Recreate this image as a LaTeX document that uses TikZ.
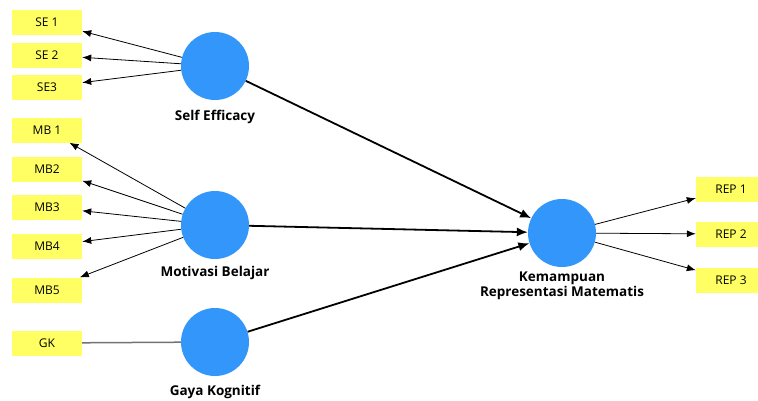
\documentclass[tikz,border=0pt]{standalone}
\usepackage{fontspec}
\setmainfont{Open Sans}
\usetikzlibrary{arrows.meta}
\definecolor{lvblue}{RGB}{51,150,250}
\definecolor{indyel}{RGB}{255,255,100}
\tikzset{
  ind/.style={fill=indyel, draw=none, minimum width=70pt, minimum height=25pt, inner sep=0pt, font=\fontsize{12}{13}\selectfont},
  lv/.style={circle, fill=lvblue, draw=none, minimum size=68pt, inner sep=0pt},
  lvlabel/.style={font=\bfseries\fontsize{13.5}{16}\selectfont, align=center, inner sep=0pt},
  load/.style={draw=black, line width=0.8pt, -{Latex[length=9pt,width=7pt]}},
  path/.style={draw=black, line width=1.8pt, -{Latex[length=11pt,width=9pt]}},
  single/.style={draw=black!55, line width=1.5pt}
}
\begin{document}
\begin{tikzpicture}[x=1pt,y=-1pt]
\clip (0,0) rectangle (758,400);
\useasboundingbox (0,0) rectangle (758,400);
\fill[white] (0,0) rectangle (758,400);
% indicators
\node[ind] (se1) at (47,22) {SE 1};
\node[ind] (se2) at (47,55) {SE 2};
\node[ind] (se3) at (47,87) {SE3};
\node[ind] (mb1) at (47,130) {MB 1};
\node[ind] (mb2) at (47,169) {MB2};
\node[ind] (mb3) at (47,207) {MB3};
\node[ind] (mb4) at (47,246) {MB4};
\node[ind] (mb5) at (47,290) {MB5};
\node[ind] (gk) at (47,343) {GK};
\node[ind] (rep1) at (731,189) {REP 1};
\node[ind] (rep2) at (731,234) {REP 2};
\node[ind] (rep3) at (731,280) {REP 3};
% latent variables
\node[lv] (se) at (215,66) {};
\node[lv] (mb) at (215,225) {};
\node[lv] (gky) at (215,342) {};
\node[lv] (krm) at (562,233) {};
% labels
\node[lvlabel] (lse) at (215,117) {Self Efficacy};
\node[lvlabel] (lmb) at (215,273) {Motivasi Belajar};
\node[lvlabel] (lgk) at (215,392) {Gaya Kognitif};
\node[lvlabel] (lkrm) at (562,286) {Kemampuan\\[-1pt]Representasi Matematis};
% loadings
\draw[load] (se) -- (se1);
\draw[load] (se) -- (se2);
\draw[load] (se) -- (se3);
\draw[load] (mb) -- (mb1);
\draw[load] (mb) -- (mb2);
\draw[load] (mb) -- (mb3);
\draw[load] (mb) -- (mb4);
\draw[load] (mb) -- (mb5);
\draw[single] (gky) -- (gk);
\draw[load] (krm) -- (rep1);
\draw[load] (krm) -- (rep2);
\draw[load] (krm) -- (rep3);
% structural paths
\draw[path] (se) -- (krm);
\draw[path] (mb) -- (krm);
\draw[path] (gky) -- (krm);
\end{tikzpicture}
\end{document}
